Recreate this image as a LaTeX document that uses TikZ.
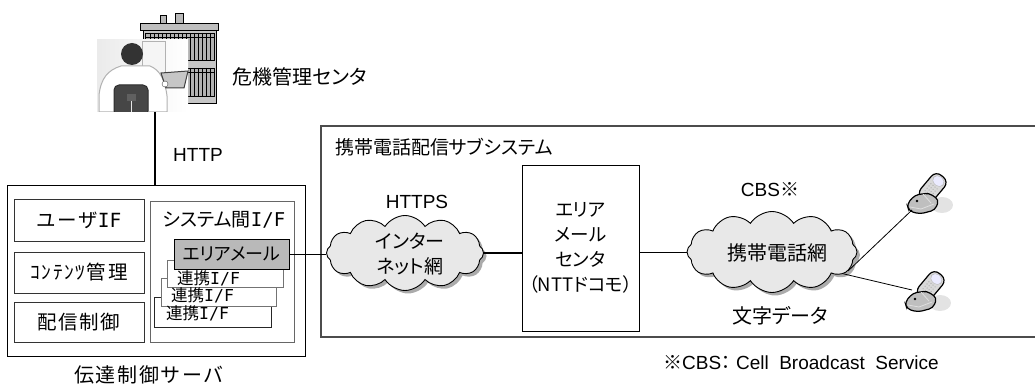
\documentclass[tikz,border=0pt]{standalone}
\usepackage{fontspec}
\setmainfont{Liberation Sans}
\newfontfamily\jp[RawFeature=+palt]{Noto Sans CJK JP}
\newfontfamily\jpw[LetterSpace=8]{Noto Sans CJK JP}
\newfontfamily\ifmono{DejaVu Sans Mono}
\usetikzlibrary{shapes.symbols,shadows}

\newcommand\IFtxt{{\ifmono I/F}}

\tikzset{
  frame/.style={draw, fill=white, line width=0.9pt, inner sep=0pt},
  jtext/.style={font=\jp\fontsize{19}{25}\selectfont, inner sep=0pt, align=center},
  wtext/.style={font=\jpw\fontsize{19.5}{25}\selectfont, inner sep=0pt},
  ltext/.style={font=\fontsize{19}{23}\selectfont, inner sep=0pt},
  net/.style={cloud, cloud puffs=12, cloud puff arc=115, cloud ignores aspect,
    draw, line width=0.9pt, fill=gray!18, inner sep=0pt,
    drop shadow={shadow xshift=3pt, shadow yshift=-3pt, fill=black!55, opacity=0.6}},
  wire/.style={line width=1pt},
  phone/.pic={
    % shadow on the ground
    \fill[gray!22] (17,8) ellipse (11 and 8);
    % opened flip with screen and keypad
    \begin{scope}[rotate=50]
      \draw[fill=gray!30, line width=1.2pt, rounded corners=7] (-3,-8.5) rectangle (27,8.5);
      \draw[gray!55, fill=blue!8!white, rounded corners=5] (16,-6) rectangle (25.5,6);
      \foreach \i in {5,8,11,14} \foreach \j in {-4,-1.3,1.3,4} \fill[gray!60] (\i,\j) circle (0.75);
    \end{scope}
    % base of the handset
    \draw[fill=gray!50, line width=1.2pt, rounded corners=4]
      (-18,7) -- (-10,-2) -- (4,-4) -- (14,3) -- (10,13) -- (-5,17) -- (-16,14) -- cycle;
    \draw[gray!25, line width=0.8pt] (-15,10) -- (-4,12) -- (9,7);
    \draw[gray!25, line width=0.8pt] (-2,-3) -- (6,6);
    \fill (-8,4) circle (1.4);
  }
}

\begin{document}
\begin{tikzpicture}[x=1pt, y=-1pt]
\useasboundingbox (0,0) rectangle (1035,387);

% ---------- crisis management centre: building ----------
\draw[fill=gray!55, line width=0.8pt] (160,15) rectangle (166,23);
\draw[fill=gray!55, line width=0.8pt] (175,13) rectangle (183,23);
\draw[fill=gray!50, line width=0.8pt] (140,23) rectangle (218,30);
\draw[fill=gray!45, line width=0.8pt] (143,30) rectangle (216,103);
\foreach \ya/\yb in {33/60, 68/96} {
  \draw[fill=gray!60, line width=0.6pt] (145,\ya) rectangle (214,\yb);
  \draw[line width=0.6pt] (145,\ya+4) -- (214,\ya+4);
  \foreach \xx in {150,154,...,212} \draw[line width=0.9pt] (\xx,\ya) -- (\xx,\yb);
}

% ---------- operator at a desk ----------
\shade[left color=gray!16, right color=white] (97,40) rectangle (188,112);
\draw[gray!60, fill=gray!8, line width=1pt] (142,42) rectangle (165,82);
\draw[gray!60, fill=white, line width=1pt]
  (99,95) .. controls (101,78) and (108,70) .. (121,66) -- (150,66)
  .. controls (160,70) and (165,80) .. (167,96) -- (167,112) -- (99,112) -- cycle;
\fill[gray!40!black] (132,54) circle (11);
\draw[gray!50!black, fill=gray!45, line width=1pt] (161,73) -- (188,71) -- (184,88) -- (166,88) -- cycle;
\draw[gray!60!black, fill=white] (165,84) circle (3);
\draw[gray!35!black, fill=gray!55!black, line width=1pt, rounded corners=5] (114,85) rectangle (148,116);
\fill[gray!75!black] (127,94) rectangle (136,101);
\draw[gray!20, line width=1pt] (131.5,101) -- (131.5,112);
\fill[white] (96,112) rectangle (189,117);
\coordinate (pc) at (155,112);

\node[jtext, anchor=west, font=\jp\fontsize{20}{24}\selectfont] (crisis) at (232,77) {危機管理センタ};

% ---------- delivery control server ----------
\node[frame, minimum width=298pt, minimum height=171pt] (server) at (156,270.5) {};
\draw[line width=2pt] (pc) -- (pc |- server.north);
\node[ltext] (http) at (198,155) {HTTP};

\node[frame, draw=black!80, minimum width=130pt, minimum height=42pt, wtext] (user) at (79,220) {ユーザ{\ifmono IF}};
\node[frame, draw=black!80, minimum width=130pt, minimum height=41pt, wtext] (content) at (79,272.5) {ｺﾝﾃﾝﾂ管理};
\node[frame, draw=black!80, minimum width=130pt, minimum height=40pt, wtext] (deliv) at (79,322) {配信制御};

\node[frame, draw=black!60, minimum width=144pt, minimum height=141pt] (sysif) at (222,271.5) {};
\node[jtext] (sysiflbl) at (224,220) {システム間\IFtxt};

\node[frame, draw=black!85, minimum width=117pt, minimum height=30pt] (link3) at (212.5,312) {};
\node[frame, draw=black!55, minimum width=115pt, minimum height=28pt] (link2) at (218.5,292) {};
\node[frame, draw=black!55, minimum width=116pt, minimum height=27pt] (link1) at (225,273.5) {};
\node[jtext, anchor=west, font=\jp\fontsize{16.5}{20}\selectfont] (link3lbl) at (166,313) {連携\IFtxt};
\node[jtext, anchor=west, font=\jp\fontsize{16.5}{20}\selectfont] (link2lbl) at (171,295) {連携\IFtxt};
\node[jtext, anchor=west, font=\jp\fontsize{16.5}{20}\selectfont] (link1lbl) at (177,278) {連携\IFtxt};
\node[frame, fill=gray!55, minimum width=115pt, minimum height=30pt,
      font=\jp\fontsize{18}{22}\selectfont] (amail) at (231.5,254) {エリアメール};

\node[wtext, font=\jpw\fontsize{20}{24}\selectfont] (serverlbl) at (149,375) {伝達制御サーバ};

% ---------- mobile phone delivery subsystem ----------
\node[draw=black!70, line width=1.5pt, minimum width=724pt, minimum height=211pt, inner sep=0pt]
  (subsys) at (683,231.5) {};
\node[jtext, anchor=west] (subsyslbl) at (335,147) {携帯電話配信サブシステム};

\node[net, minimum width=157pt, minimum height=75pt] (inet) at (405,253) {};
\node[jtext] (inetlbl) at (410,254.5) {インター\\ネット網};
\node[ltext] (https) at (417,202) {HTTPS};

\node[frame, minimum width=117pt, minimum height=166pt, jtext,
      font=\jp\fontsize{18.5}{25}\selectfont] (amc) at (580.5,248)
  {エリア\\メール\\センタ\\（NTTドコモ）};

\node[net, minimum width=170pt, minimum height=81pt] (mob) at (772,252) {};
\node[jtext, font=\jp\fontsize{20}{24}\selectfont] (moblbl) at (777,253) {携帯電話網};
\node[ltext] (cbs) at (770,190) {CBS{\jp ※}};
\node[jtext, font=\jp\fontsize{20}{24}\selectfont] (textdata) at (780,316) {文字データ};

\pic at (925,197) {phone};
\pic at (923,295) {phone};
\coordinate (ph1) at (912,210);
\coordinate (ph2) at (912,290);

% ---------- connectors ----------
\draw[wire] (amail.east) -- (amail.east -| inet.west);
\draw[line width=2pt] (inet.east) -- (inet.east -| amc.west);
\draw[wire] (amc.east |- mob.west) -- (mob.west);
\draw[line width=0.8pt] (mob.-14) -- (ph1);
\draw[line width=0.8pt] (mob.-17) -- (ph2);

% ---------- footnote ----------
\node[ltext, anchor=west] (note) at (663,363) {{\jp ※}CBS{\jp ：}\ Cell\ \ Broadcast\ \ Service};
\end{tikzpicture}
\end{document}
